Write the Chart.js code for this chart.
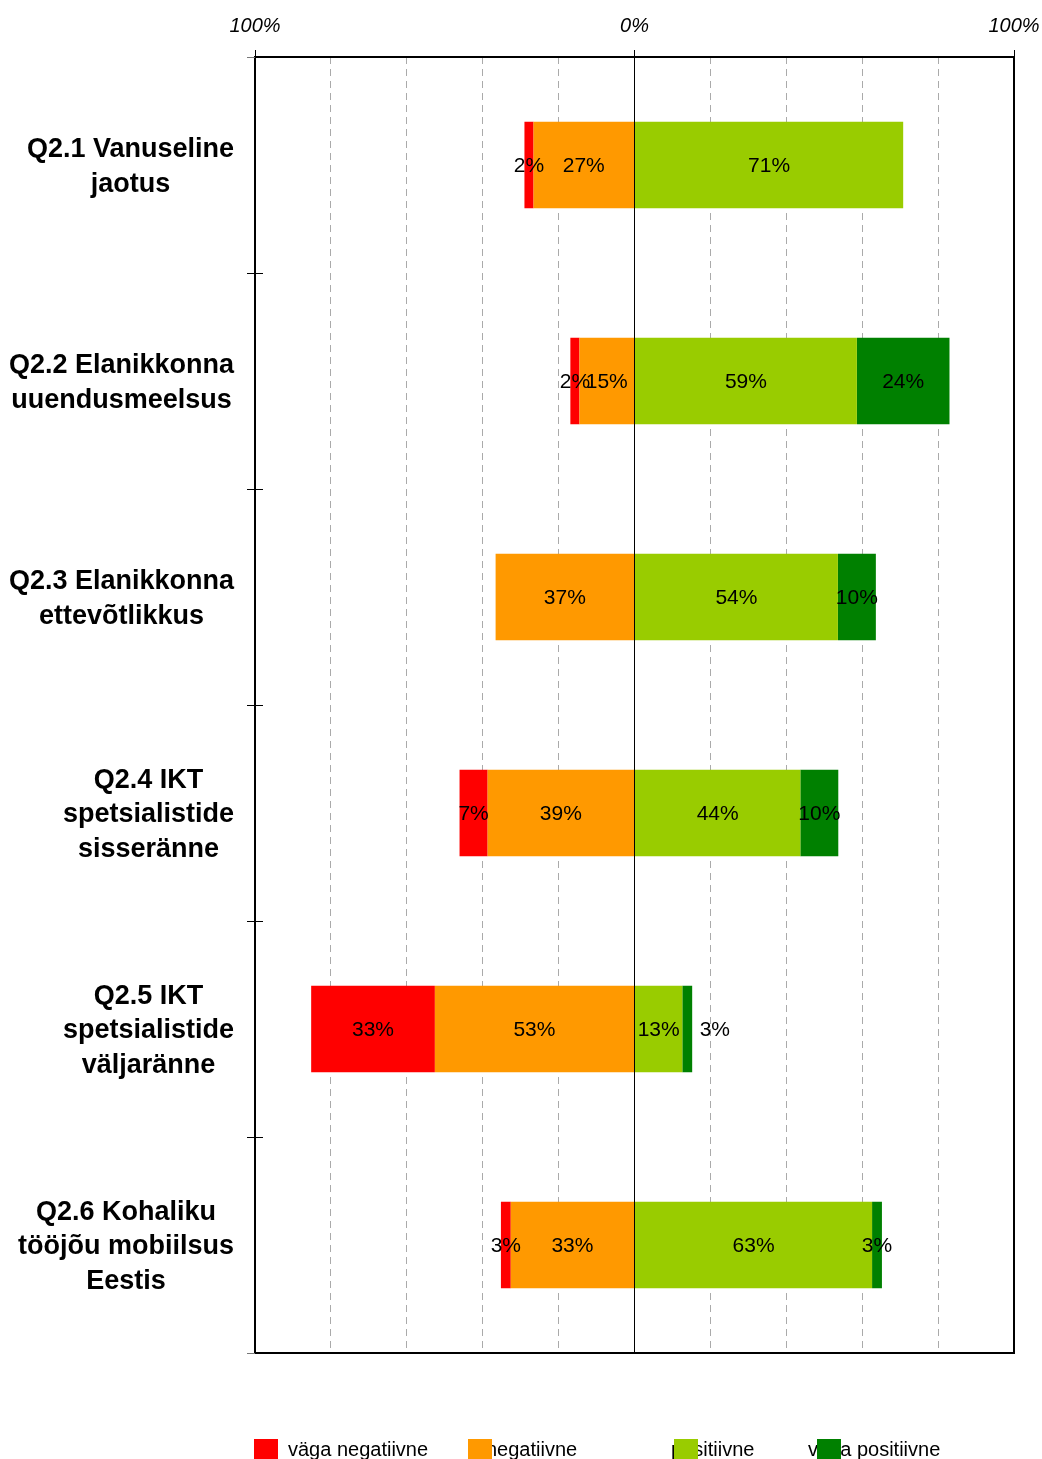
<!DOCTYPE html>
<html>
<head>
<meta charset="utf-8">
<script src="https://cdn.jsdelivr.net/npm/chart.js@4/dist/chart.umd.min.js"></script>
<style>
    body { margin: 0; background: #fff; }
    canvas { display: block; }
</style>
</head>
<body>
<canvas id="likertChart" width="1042" height="1459"></canvas>
<script>
// categories (multi-line labels as in the picture)
const categories = [
    ['Q2.1 Vanuseline', 'jaotus'],
    ['Q2.2 Elanikkonna', 'uuendusmeelsus'],
    ['Q2.3 Elanikkonna', 'ettevõtlikkus'],
    ['Q2.4 IKT', 'spetsialistide', 'sisseränne'],
    ['Q2.5 IKT', 'spetsialistide', 'väljaränne'],
    ['Q2.6 Kohaliku', 'tööjõu mobiilsus', 'Eestis']
];

// shares in %, negative answers are drawn to the left of 0
const vagaNegatiivne = [2.4, 2.4, 0, 7.4, 32.6, 2.6];
const negatiivne = [26.6, 14.5, 36.6, 38.7, 52.6, 32.6];
const positiivne = [70.8, 58.6, 53.6, 43.7, 12.6, 62.6];
const vagaPositiivne = [0, 24.4, 10.0, 10.0, 2.6, 2.6];

const seriesNames = ['väga negatiivne', 'negatiivne', 'positiivne', 'väga positiivne'];
const seriesColors = ['#FF0000', '#FF9900', '#99CC00', '#008000'];

const axisTicks = { '-100': '100%', '0': '0%', '100': '100%' };

const FONT = '"Liberation Sans", Arial, sans-serif';

document.addEventListener("DOMContentLoaded", function() {
    const canvas = document.getElementById('likertChart');

    const overlay = {
        id: 'overlay',
        afterDraw(chart) {
            const ctx = chart.ctx;
            const area = chart.chartArea;
            const yScale = chart.scales.y;
            ctx.save();

            // frame
            ctx.strokeStyle = '#000';
            ctx.lineWidth = 2;
            ctx.strokeRect(area.left, area.top, area.right - area.left, area.bottom - area.top);

            // category boundary ticks on the left axis
            const step = (area.bottom - area.top) / categories.length;
            ctx.lineWidth = 1;
            for (let i = 0; i <= categories.length; i++) {
                const y = Math.round(area.top + i * step) + 0.5;
                ctx.strokeStyle = (i === 0 || i === categories.length) ? '#777' : '#000';
                ctx.beginPath();
                ctx.moveTo(area.left - 8, y);
                ctx.lineTo(i === 0 || i === categories.length ? area.left : area.left + 8, y);
                ctx.stroke();
            }

            // category labels, each block right aligned, lines centred
            ctx.fillStyle = '#000';
            ctx.font = 'bold 27px ' + FONT;
            ctx.textAlign = 'center';
            ctx.textBaseline = 'middle';
            categories.forEach((lines, i) => {
                const cy = yScale.getPixelForValue(i) + 2;
                const maxW = Math.max(...lines.map(l => ctx.measureText(l).width));
                const cx = area.left - 21 - maxW / 2;
                const lh = 34.5;
                lines.forEach((l, j) => {
                    ctx.fillText(l, cx, cy + (j - (lines.length - 1) / 2) * lh);
                });
            });

            // value labels inside the bars
            ctx.font = '21px ' + FONT;
            categories.forEach((c, i) => {
                let labels = [];
                chart.data.datasets.forEach((ds, di) => {
                    const v = Math.abs(ds.data[i]);
                    if (!v) return;
                    const bar = chart.getDatasetMeta(di).data[i];
                    const text = Math.round(v) + '%';
                    labels.push({ text, x: (bar.x + bar.base) / 2, y: bar.y + 1, w: ctx.measureText(text).width });
                });
                labels.sort((a, b) => a.x - b.x);
                let prevRight = -Infinity;
                labels.forEach(lb => {
                    if (lb.x - lb.w / 2 < prevRight - 6) {
                        lb.x = prevRight + 20 + lb.w / 2;
                    }
                    ctx.fillText(lb.text, lb.x, lb.y);
                    prevRight = lb.x + lb.w / 2;
                });
            });

            // legend: text first, boxes painted over it
            const legendBoxX = [254, 468, 674, 817];
            const legendTextX = [288, 486, 671, 808];
            ctx.font = '20px ' + FONT;
            ctx.textAlign = 'left';
            ctx.textBaseline = 'alphabetic';
            seriesNames.forEach((name, i) => {
                ctx.fillStyle = '#000';
                ctx.fillText(name, legendTextX[i], 1456);
            });
            seriesNames.forEach((name, i) => {
                ctx.fillStyle = seriesColors[i];
                ctx.fillRect(legendBoxX[i], 1439, 24, 22);
            });

            ctx.restore();
        }
    };

    new Chart(canvas, {
        type: 'bar',
        data: {
            labels: categories,
            datasets: [
                { label: seriesNames[1], data: negatiivne.map(v => -v), backgroundColor: seriesColors[1] },
                { label: seriesNames[0], data: vagaNegatiivne.map(v => -v), backgroundColor: seriesColors[0] },
                { label: seriesNames[2], data: positiivne, backgroundColor: seriesColors[2] },
                { label: seriesNames[3], data: vagaPositiivne, backgroundColor: seriesColors[3] }
            ]
        },
        options: {
            indexAxis: 'y',
            responsive: false,
            animation: false,
            barPercentage: 0.4,
            categoryPercentage: 1.0,
            layout: { padding: { left: 0, top: 0, right: 28, bottom: 106 } },
            plugins: {
                legend: { display: false },
                tooltip: { enabled: false }
            },
            scales: {
                x: {
                    type: 'linear',
                    position: 'top',
                    stacked: true,
                    min: -100,
                    max: 100,
                    afterFit: function(scale) {
                        scale.height = 57;
                        scale.paddingLeft = 0;
                        scale.paddingRight = 0;
                    },
                    ticks: {
                        stepSize: 20,
                        autoSkip: false,
                        maxRotation: 0,
                        padding: 12,
                        color: '#000',
                        font: { family: FONT, size: 20, style: 'italic' },
                        callback: v => axisTicks[String(v)] || ''
                    },
                    grid: {
                        tickLength: 7,
                        color: c => {
                            const v = c.tick ? c.tick.value : null;
                            if (v === 0) return '#000';
                            if (Math.abs(v) === 100) return 'rgba(0,0,0,0)';
                            return '#aaaaaa';
                        },
                        tickColor: c => (c.tick && axisTicks[String(c.tick.value)]) ? '#000' : 'rgba(0,0,0,0)',
                        lineWidth: 1
                    },
                    border: {
                        display: false,
                        dash: c => (c.tick && c.tick.value % 100 !== 0) ? [7, 5] : []
                    }
                },
                y: {
                    stacked: true,
                    afterFit: function(scale) { scale.width = 255; },
                    ticks: { display: false },
                    grid: { display: false },
                    border: { display: false }
                }
            }
        },
        plugins: [overlay]
    });
});
</script>
</body>
</html>
